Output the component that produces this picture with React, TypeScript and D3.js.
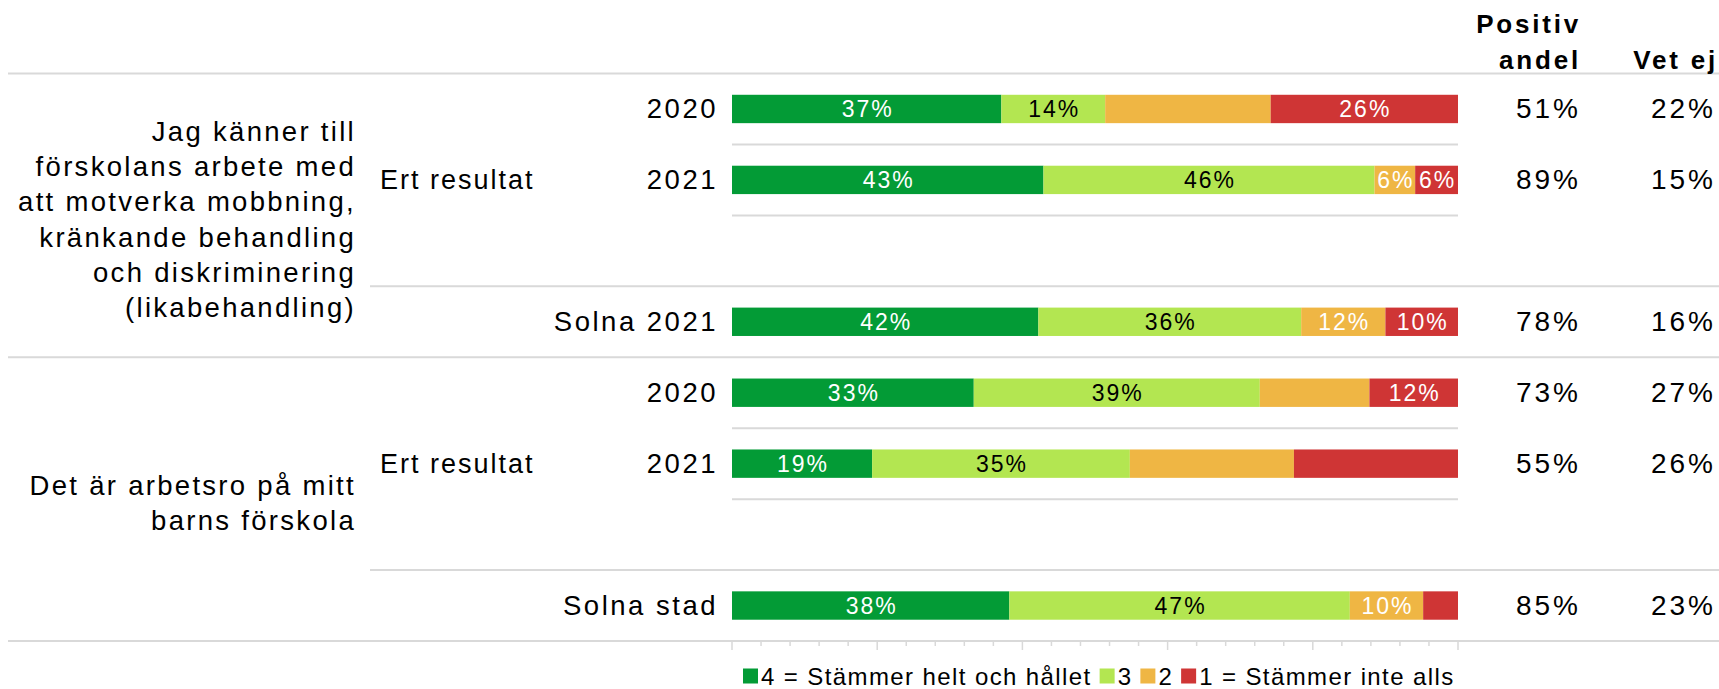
import React, { useEffect, useRef } from "react";
import * as d3 from "d3";

// ---------- data ----------
const categories = ["4 = Stämmer helt och hållet", "3", "2", "1 = Stämmer inte alls"];
const colors = ["#039B36", "#B3E651", "#EFB644", "#CF3535"];
const labelColors = ["#ffffff", "#000000", "#ffffff", "#ffffff"];

const questions = [
  ["Jag känner till", "förskolans arbete med", "att motverka mobbning,", "kränkande behandling", "och diskriminering", "(likabehandling)"],
  ["Det är arbetsro på mitt", "barns förskola"],
];

// slots: 8 bands, 4 per question (2020, 2021, empty, comparison)
const slotIds = ["q1-2020", "q1-2021", "q1-empty", "q1-solna", "q2-2020", "q2-2021", "q2-empty", "q2-solna"];
const rowIds = ["q1-2020", "q1-2021", "q1-solna", "q2-2020", "q2-2021", "q2-solna"];
const rowLabels = ["2020", "2021", "Solna 2021", "2020", "2021", "Solna stad"];

const valuesS4 = [37.1, 42.9, 42.2, 33.3, 19.3, 38.2];
const valuesS3 = [14.3, 45.6, 36.2, 39.4, 35.5, 46.9];
const valuesS2 = [22.8, 5.6, 11.6, 15.1, 22.6, 10.1];
const valuesS1 = [25.8, 5.9, 10.0, 12.2, 22.6, 4.8];

const labelsS4 = ["37%", "43%", "42%", "33%", "19%", "38%"];
const labelsS3 = ["14%", "46%", "36%", "39%", "35%", "47%"];
const labelsS2 = [null, "6%", "12%", null, null, "10%"];
const labelsS1 = ["26%", "6%", "10%", "12%", null, null];

const positivAndel = ["51%", "89%", "78%", "73%", "55%", "85%"];
const vetEj = ["22%", "15%", "16%", "27%", "26%", "23%"];

const xTicksMajor = [0, 20, 40, 60, 80, 100];

const W = 1719;
const H = 689;
const FONT = "'Liberation Sans', Arial, Helvetica, sans-serif";

export default function App() {
  const ref = useRef<SVGSVGElement | null>(null);

  useEffect(() => {
    const svg = d3.select(ref.current);
    svg.selectAll("*").remove();

    const x = d3.scaleLinear().domain([0, 100]).range([732, 1458]);
    const y = d3.scaleBand<string>().domain(slotIds).range([73.5, 641]).paddingInner(0.6).paddingOuter(0.3);
    const step = y.step();
    const bw = y.bandwidth();
    const bandTop = (id: string) => (y(id) as number) - (step - bw) / 2;
    const center = (id: string) => (y(id) as number) + bw / 2;

    const grid = "#D9D9D9";
    const g = svg.append("g");

    // horizontal separators
    const lines: { yy: number; x1: number; x2: number }[] = [];
    slotIds.forEach((id, i) => {
      const top = bandTop(id);
      if (i === 0 || i === 4) lines.push({ yy: top, x1: 8, x2: W });
      else if (i === 3 || i === 7) lines.push({ yy: top, x1: 370, x2: W });
      else lines.push({ yy: top, x1: x(0), x2: x(100) });
    });
    lines.push({ yy: bandTop(slotIds[7]) + step, x1: 8, x2: W });
    g.selectAll("line.sep").data(lines).enter().append("line")
      .attr("x1", (d) => d.x1).attr("x2", (d) => d.x2)
      .attr("y1", (d) => d.yy).attr("y2", (d) => d.yy)
      .attr("stroke", grid).attr("stroke-width", 2);

    // ticks
    const axisY = bandTop(slotIds[7]) + step;
    const minor = d3.range(0, 101, 4).filter((v) => v % 20 !== 0);
    g.selectAll("line.maj").data(xTicksMajor).enter().append("line")
      .attr("x1", (d) => x(d)).attr("x2", (d) => x(d))
      .attr("y1", axisY).attr("y2", axisY + 9)
      .attr("stroke", grid).attr("stroke-width", 1.5);
    g.selectAll("line.min").data(minor).enter().append("line")
      .attr("x1", (d) => x(d)).attr("x2", (d) => x(d))
      .attr("y1", axisY).attr("y2", axisY + 5)
      .attr("stroke", grid).attr("stroke-width", 1.5);

    // stacked bars
    const seriesVals = [valuesS4, valuesS3, valuesS2, valuesS1];
    const seriesLabels = [labelsS4, labelsS3, labelsS2, labelsS1];
    const table = rowIds.map((id, r) => {
      const o: any = { id };
      seriesVals.forEach((vals, s) => (o["s" + s] = vals[r]));
      return o;
    });
    const stack = d3.stack<any>().keys(["s0", "s1", "s2", "s3"]);
    const stacked = stack(table);
    stacked.forEach((layer, s) => {
      const lg = g.append("g");
      lg.selectAll("rect").data(layer).enter().append("rect")
        .attr("x", (d) => x(d[0]))
        .attr("width", (d) => x(d[1]) - x(d[0]))
        .attr("y", (d) => y(d.data.id) as number)
        .attr("height", bw)
        .attr("fill", colors[s]);
      lg.selectAll("text").data(layer.map((d, r) => ({ d, label: seriesLabels[s][r] })).filter((o) => o.label))
        .enter().append("text")
        .attr("x", (o) => (x(o.d[0]) + x(o.d[1])) / 2 + 1)
        .attr("y", (o) => center(o.d.data.id))
        .attr("dominant-baseline", "central")
        .attr("text-anchor", "middle")
        .attr("font-family", FONT).attr("font-size", 23).attr("letter-spacing", 2)
        .attr("fill", labelColors[s])
        .text((o) => o.label as string);
    });

    const txt = (sel: any) => sel.attr("font-family", FONT).attr("fill", "#000");

    // row labels
    g.selectAll("text.row").data(rowIds).enter().append("text")
      .call(txt)
      .attr("x", 718).attr("y", (id) => center(id))
      .attr("text-anchor", "end").attr("dominant-baseline", "central")
      .attr("font-size", 27.5).attr("letter-spacing", 2.5)
      .text((_id, i) => rowLabels[i]);

    // "Ert resultat"
    [["q1-2020", "q1-empty"], ["q2-2020", "q2-empty"]].forEach(([a, b]) => {
      const cy = (bandTop(a) + bandTop(b) + step) / 2;
      g.append("text").call(txt)
        .attr("x", 380).attr("y", cy)
        .attr("dominant-baseline", "central")
        .attr("font-size", 27).attr("letter-spacing", 2)
        .text("Ert resultat");
    });

    // question texts
    questions.forEach((lines, qi) => {
      const a = slotIds[qi * 4];
      const cy = bandTop(a) + step * 2 + 4;
      const lh = 35.3;
      lines.forEach((ln, li) => {
        g.append("text").call(txt)
          .attr("x", 356).attr("y", cy + (li - (lines.length - 1) / 2) * lh)
          .attr("text-anchor", "end").attr("dominant-baseline", "central")
          .attr("font-size", 27.5).attr("letter-spacing", 2.3)
          .text(ln);
      });
    });

    // right columns
    g.selectAll("text.pos").data(rowIds).enter().append("text").call(txt)
      .attr("x", 1581).attr("y", (id) => center(id))
      .attr("text-anchor", "end").attr("dominant-baseline", "central")
      .attr("font-size", 28).attr("letter-spacing", 3)
      .text((_id, i) => positivAndel[i]);
    g.selectAll("text.vet").data(rowIds).enter().append("text").call(txt)
      .attr("x", 1716).attr("y", (id) => center(id))
      .attr("text-anchor", "end").attr("dominant-baseline", "central")
      .attr("font-size", 28).attr("letter-spacing", 3)
      .text((_id, i) => vetEj[i]);

    // headers
    const hdr = (t: string, xx: number, yy: number) =>
      g.append("text").call(txt).attr("x", xx).attr("y", yy)
        .attr("text-anchor", "end").attr("dominant-baseline", "central")
        .attr("font-size", 26).attr("font-weight", "bold").attr("letter-spacing", 2.8)
        .text(t);
    hdr("Positiv", 1581, 24);
    hdr("andel", 1581, 60);
    hdr("Vet ej", 1718, 60);

    // legend
    const leg = g.append("g");
    let cx = 0;
    const sq = 15;
    const gap = 8;
    categories.forEach((c, i) => {
      leg.append("rect").attr("x", cx).attr("y", -sq / 2).attr("width", sq).attr("height", sq).attr("fill", colors[i]);
      const t = leg.append("text").call(txt)
        .attr("x", cx + sq + 3).attr("y", 0)
        .attr("dominant-baseline", "central")
        .attr("font-size", 24).attr("letter-spacing", 1.4)
        .text(c);
      const w = (t.node() as SVGTextElement).getComputedTextLength();
      cx += sq + 3 + w + gap;
    });
    leg.attr("transform", `translate(${743},${676})`);
  }, []);

  return (
    <svg
      ref={ref}
      width={W}
      height={H}
      style={{ position: "absolute", left: 0, top: 0, background: "#fff" }}
    />
  );
}
